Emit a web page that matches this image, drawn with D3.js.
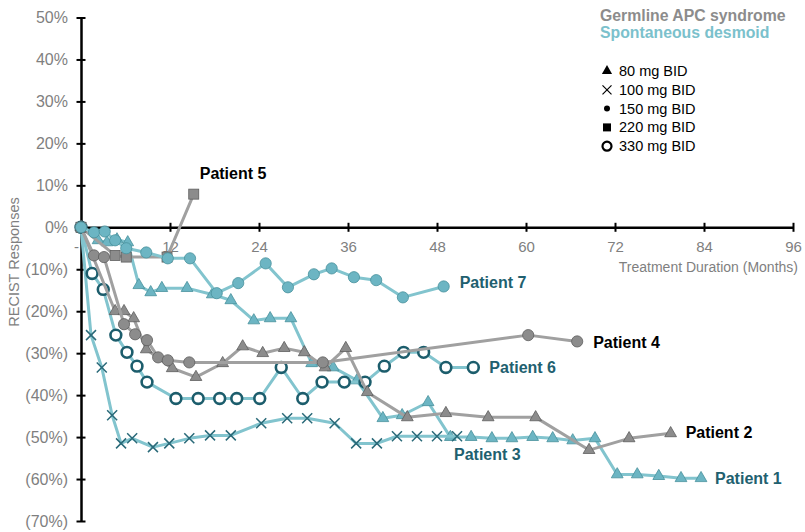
<!DOCTYPE html>
<html>
<head>
<meta charset="utf-8">
<script src="https://cdn.jsdelivr.net/npm/d3@7"></script>
<style>
  body { margin: 0; background: #fff; }
  text { font-family: "Liberation Sans", Arial, sans-serif; }
</style>
</head>
<body>
<div id="chart"></div>
<script>
// tick values
var monthTicks = [0, 12, 24, 36, 48, 60, 72, 84, 96];
var pctTicks = [50, 40, 30, 20, 10, 0, -10, -20, -30, -40, -50, -60, -70];

// [month, % change]
var patient1 = [[0,0],[2.3,-3.1],[3.5,-3.6],[4.85,-2.9],[6.3,-3.6],[7.8,-13.8],[9.4,-15.5],[10.9,-14.5],
  [14.3,-14.5],[17.7,-16.0],[20.2,-17.4],[23.3,-22.2],[25.5,-21.7],[28.3,-21.7],[31.1,-32.4],[34.0,-33.4],
  [37.2,-36.5],[40.7,-45.5],[43.3,-44.8],[46.8,-41.7],[49.8,-50.0],[52.6,-50.0],[55.4,-50.3],[58.1,-50.3],
  [60.9,-50.0],[63.6,-50.3],[66.3,-50.8],[69.3,-50.3],[72.3,-58.9],[75.0,-58.9],[77.9,-59.3],[80.9,-59.8],[83.6,-59.8]];
var patient2 = [[0,0],[4.6,-20.0],[5.8,-20.0],[7.1,-21.7],[8.8,-29.1],[12.3,-33.6],[15.5,-35.7],[19.1,-32.4],
  [21.8,-28.4],[24.5,-30.0],[27.4,-28.8],[30.1,-29.8],[32.9,-33.4],[35.7,-28.8],[38.6,-39.3],[44.0,-45.3],
  [49.2,-44.3],[54.9,-45.3],[61.3,-45.3],[68.5,-53.1],[73.9,-50.3],[79.5,-49.1]];
var patient3 = [[0,0],[1.35,-25.7],[2.8,-33.4],[4.2,-44.8],[5.4,-51.5],[6.9,-50.3],[9.7,-52.4],[11.9,-51.5],
  [14.6,-50.3],[17.4,-49.6],[20.2,-49.6],[24.3,-46.7],[27.8,-45.5],[30.5,-45.5],[34.2,-46.7],[37.1,-51.5],
  [39.9,-51.5],[42.6,-49.8],[45.3,-49.8],[48.0,-49.8],[50.7,-49.8]];
var patient4 = [[0,0],[1.75,-6.7],[3.1,-7.1],[5.8,-23.1],[7.3,-25.5],[8.9,-26.9],[10.4,-31.0],[11.7,-31.7],
  [14.6,-32.2],[32.6,-32.2],[60.3,-25.7],[66.9,-27.2]];
var patient5 = [[0,0],[4.6,-6.7],[6.1,-7.1],[11.6,-7.1],[15.2,7.9]];
var patient6 = [[0,0],[1.5,-11.0],[3.0,-14.8],[4.7,-25.7],[6.2,-29.8],[7.55,-33.1],[8.9,-36.9],[12.8,-40.8],
  [15.8,-40.8],[18.7,-40.8],[21.0,-40.8],[24.1,-40.8],[27.0,-33.4],[29.9,-40.8],[32.5,-36.9],[35.5,-36.9],
  [38.3,-36.9],[40.9,-33.1],[43.5,-29.8],[46.2,-29.8],[49.2,-33.4],[52.9,-33.4]];
var patient7 = [[0,0],[1.75,-1.2],[3.2,-1.0],[4.6,-3.1],[6.1,-5.0],[8.8,-6.0],[11.7,-7.4],[14.7,-7.4],
  [18.3,-15.7],[21.2,-13.3],[24.9,-8.6],[27.9,-14.3],[31.4,-11.2],[33.8,-9.8],[36.8,-11.9],[39.8,-12.6],
  [43.4,-16.7],[48.9,-14.1]];

var doseLabels = ["80 mg BID", "100 mg BID", "150 mg BID", "220 mg BID", "330 mg BID"];
var doseShapes = ["triangle", "x", "dot", "square", "ring"];

var svgWidth = 805;
var svgHeight = 532;

var gray = { line: "#a0a0a0", fill: "#8c8c8c", stroke: "#5e5e5e", text: "#000" };
var teal = { line: "#82c4ce", fill: "#6cb5c3", stroke: "#47909c", text: "#21606f" };
var darkTeal = "#1c5d6c";

// draw order: teal underneath, patient 7 on top
var series = [
  { name: "Patient 1", data: patient1, shape: "triangle", c: teal, dx: 14, dy: 6 },
  { name: "Patient 3", data: patient3, shape: "x", c: teal, dx: -3, dy: 24 },
  { name: "Patient 6", data: patient6, shape: "ring", c: teal, dx: 16, dy: 6 },
  { name: "Patient 2", data: patient2, shape: "triangle", c: gray, dx: 15, dy: 5 },
  { name: "Patient 4", data: patient4, shape: "circle", c: gray, dx: 16, dy: 7 },
  { name: "Patient 5", data: patient5, shape: "square", c: gray, dx: 6, dy: -15 },
  { name: "Patient 7", data: patient7, shape: "circle", c: teal, dx: 16, dy: 2 }
];

var svg = d3.select("#chart")
  .append("svg")
  .attr("width", svgWidth)
  .attr("height", svgHeight);

var x = d3.scaleLinear().domain([0, 96]).range([81, 793]);
var y = d3.scaleLinear().domain([-70, 50]).range([521, 17.5]);

// y axis
var yAxis = d3.axisLeft(y)
  .tickValues(pctTicks)
  .tickSizeOuter(0)
  .tickFormat(d => d < 0 ? "(" + (-d) + "%)" : d + "%");

var yG = svg.append("g")
  .attr("transform", `translate(${x(0)},0)`)
  .call(yAxis);
yG.select(".domain").attr("stroke", "#000").attr("stroke-width", 2.5);
yG.selectAll(".tick line").attr("x1", -4.5).attr("x2", 4.5).attr("stroke", "#000").attr("stroke-width", 2);
yG.selectAll(".tick text")
  .attr("x", -13)
  .attr("fill", "#7f7f7f")
  .style("font-size", "16px");

// x axis at 0%
var xAxis = d3.axisBottom(x)
  .tickValues(monthTicks)
  .tickSizeOuter(0)
  .tickFormat(d => d === 0 ? "-" : d);

var xG = svg.append("g")
  .attr("transform", `translate(0,${y(0)})`)
  .call(xAxis);
xG.select(".domain").attr("stroke", "#000").attr("stroke-width", 2.5);
xG.selectAll(".tick line").attr("y1", -4.5).attr("y2", 4.5).attr("stroke", "#000").attr("stroke-width", 2)
  .filter(d => d === 0).remove();
xG.selectAll(".tick text")
  .attr("y", 14)
  .attr("fill", "#7f7f7f")
  .style("font-size", "15px");
xG.selectAll(".tick text").filter(d => d === 0).attr("dx", -5);
yG.raise();

svg.append("text")
  .attr("x", 798)
  .attr("y", 272)
  .attr("text-anchor", "end")
  .attr("fill", "#7f7f7f")
  .style("font-size", "14px")
  .text("Treatment Duration (Months)");

svg.append("text")
  .attr("transform", "translate(19,262) rotate(-90)")
  .attr("text-anchor", "middle")
  .attr("fill", "#7f7f7f")
  .style("font-size", "14.5px")
  .text("RECIST Responses");

// marker shapes
function drawMarker(g, shape, c) {
  if (shape === "triangle") {
    g.append("path").attr("d", d3.symbol(d3.symbolTriangle, 60)())
      .attr("fill", c.fill).attr("stroke", c.stroke).attr("stroke-width", 0.8);
  } else if (shape === "circle") {
    g.append("circle").attr("r", 5.6)
      .attr("fill", c.fill).attr("stroke", c.stroke).attr("stroke-width", 0.8);
  } else if (shape === "square") {
    g.append("rect").attr("x", -5).attr("y", -5).attr("width", 10).attr("height", 10)
      .attr("fill", c.fill).attr("stroke", c.stroke).attr("stroke-width", 0.8);
  } else if (shape === "ring") {
    g.append("circle").attr("r", 5.4)
      .attr("fill", "#fff").attr("stroke", darkTeal).attr("stroke-width", 2.6);
  } else if (shape === "x") {
    g.append("path").attr("d", "M-5,-5L5,5M-5,5L5,-5")
      .attr("fill", "none").attr("stroke", "#2a6a79").attr("stroke-width", 1.5);
  }
}

var line = d3.line().x(d => x(d[0])).y(d => y(d[1]));

series.forEach(function(s) {
  var g = svg.append("g");
  g.append("path")
    .datum(s.data)
    .attr("d", line)
    .attr("fill", "none")
    .attr("stroke", s.c.line)
    .attr("stroke-width", 3)
    .attr("stroke-linejoin", "round");

  g.selectAll("g.pt")
    .data(s.data)
    .enter()
    .append("g")
    .attr("class", "pt")
    .attr("transform", d => `translate(${x(d[0])},${y(d[1])})`)
    .each(function() { drawMarker(d3.select(this), s.shape, s.c); });

  var last = s.data[s.data.length - 1];
  g.append("text")
    .attr("x", x(last[0]) + s.dx)
    .attr("y", y(last[1]) + s.dy)
    .attr("fill", s.c.text)
    .style("font-size", "16px")
    .style("font-weight", "bold")
    .text(s.name);
});

// legend
svg.append("text")
  .attr("x", 600).attr("y", 21)
  .attr("fill", "#8c8c8c")
  .style("font-size", "15.8px").style("font-weight", "bold")
  .text("Germline APC syndrome");
svg.append("text")
  .attr("x", 600).attr("y", 38)
  .attr("fill", "#7bc1cc")
  .style("font-size", "15.8px").style("font-weight", "bold")
  .text("Spontaneous desmoid");

var legendRows = svg.selectAll("g.legendRow")
  .data(doseLabels)
  .enter()
  .append("g")
  .attr("class", "legendRow")
  .attr("transform", (d, i) => `translate(607,${71 + i * 18.8})`);

legendRows.each(function(d, i) {
  var g = d3.select(this);
  var shape = doseShapes[i];
  if (shape === "triangle") {
    g.append("path").attr("d", d3.symbol(d3.symbolTriangle, 45)()).attr("fill", "#000");
  } else if (shape === "x") {
    g.append("path").attr("d", "M-4.5,-4.5L4.5,4.5M-4.5,4.5L4.5,-4.5").attr("stroke", "#000").attr("stroke-width", 1.2);
  } else if (shape === "dot") {
    g.append("circle").attr("r", 3).attr("fill", "#000");
  } else if (shape === "square") {
    g.append("rect").attr("x", -4).attr("y", -4).attr("width", 8).attr("height", 8).attr("fill", "#000");
  } else if (shape === "ring") {
    g.append("circle").attr("r", 4.5).attr("fill", "none").attr("stroke", "#000").attr("stroke-width", 2.2);
  }
  g.append("text")
    .attr("x", 12)
    .attr("y", 5)
    .attr("fill", "#000")
    .style("font-size", "14.5px")
    .text(d);
});
</script>
</body>
</html>
